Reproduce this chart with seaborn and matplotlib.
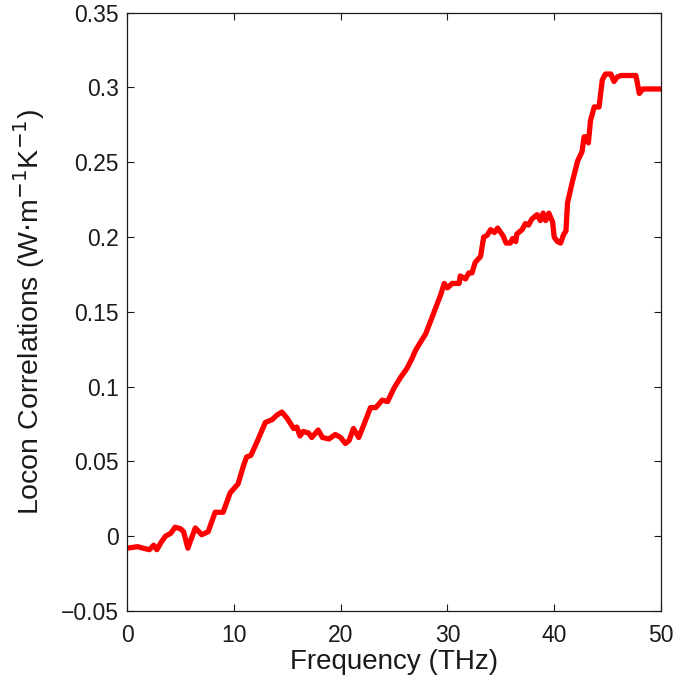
import matplotlib
matplotlib.use("Agg")
import matplotlib.pyplot as plt
import seaborn as sns
import pandas as pd

freq = [0.0, 0.5, 1.0, 1.5, 2.1, 2.5, 2.8, 3.2, 3.6, 4.1, 4.5, 5.0, 5.3, 5.7, 6.0, 6.4,
        7.0, 7.6, 8.25, 9.0, 9.66, 10.4, 10.9, 11.2, 11.6, 12.17, 12.95, 13.6, 14.04,
        14.5, 14.98, 15.6, 15.9, 16.2, 16.5, 17.0, 17.3, 17.9, 18.3, 18.9, 19.5, 20.0,
        20.45, 20.8, 21.2, 21.7, 22.2, 22.8, 23.3, 23.9, 24.4, 25.0, 25.6, 26.2, 26.7,
        27.0, 27.5, 27.95, 28.6, 29.4, 29.7, 30.0, 30.45, 31.1, 31.2, 31.7, 32.0, 32.3,
        32.6, 33.1, 33.4, 33.7, 34.05, 34.4, 34.7, 35.2, 35.5, 35.9, 36.1, 36.4, 36.5,
        37.0, 37.3, 37.6, 37.9, 38.4, 38.7, 38.96, 39.2, 39.5, 39.85, 40.0, 40.3, 40.6,
        40.9, 41.1, 41.25, 41.7, 42.2, 42.6, 42.8, 43.0, 43.2, 43.4, 43.75, 44.2, 44.5,
        44.8, 45.3, 45.6, 45.9, 46.25, 47.65, 47.97, 48.3, 50.0]
corr = [-0.008, -0.0075, -0.007, -0.008, -0.009, -0.006, -0.009, -0.004, 0.000, 0.002,
        0.006, 0.005, 0.003, -0.008, -0.002, 0.0055, 0.001, 0.003, 0.016, 0.016, 0.029,
        0.035, 0.047, 0.053, 0.054, 0.063, 0.076, 0.078, 0.081, 0.083, 0.079, 0.072,
        0.073, 0.067, 0.070, 0.069, 0.066, 0.071, 0.066, 0.065, 0.068, 0.066, 0.062,
        0.064, 0.072, 0.066, 0.075, 0.086, 0.086, 0.091, 0.090, 0.099, 0.106, 0.112,
        0.119, 0.124, 0.130, 0.135, 0.147, 0.162, 0.169, 0.166, 0.169, 0.169, 0.174,
        0.172, 0.176, 0.176, 0.183, 0.187, 0.200, 0.201, 0.205, 0.203, 0.206, 0.201,
        0.196, 0.196, 0.199, 0.197, 0.202, 0.205, 0.209, 0.208, 0.212, 0.215, 0.211,
        0.216, 0.211, 0.216, 0.210, 0.200, 0.197, 0.196, 0.202, 0.204, 0.223, 0.237,
        0.251, 0.257, 0.267, 0.267, 0.263, 0.278, 0.287, 0.287, 0.305, 0.309, 0.309,
        0.304, 0.307, 0.308, 0.308, 0.296, 0.299, 0.299]

xticks = [0, 10, 20, 30, 40, 50]
xticklabels = ["0", "10", "20", "30", "40", "50"]
yticks = [-0.05, 0, 0.05, 0.1, 0.15, 0.2, 0.25, 0.3, 0.35]
yticklabels = ["\u22120.05", "0", "0.05", "0.1", "0.15", "0.2", "0.25", "0.3", "0.35"]

sns.set_style("ticks")
plt.rcParams['font.family'] = ['Liberation Sans', 'DejaVu Sans']

df = pd.DataFrame({"Frequency": freq, "Corr": corr})

fig = plt.figure(figsize=(6.75, 6.82), dpi=100)
ax = fig.add_axes([127 / 675, 1 - 611 / 682, (661 - 127) / 675, (611 - 12.7) / 682])
sns.lineplot(data=df, x="Frequency", y="Corr", ax=ax, color="#ff0000", linewidth=3.8)

ax.set_xlim(0, 50)
ax.set_ylim(-0.05, 0.35)
ax.set_xticks(xticks)
ax.set_xticklabels(xticklabels)
ax.set_yticks(yticks)
ax.set_yticklabels(yticklabels)
ax.tick_params(direction="in", length=5, width=0.8, top=True, right=True,
               labelsize=16.5, colors="#1a1a1a", pad=6)
ax.tick_params(axis="x", pad=9)
for s in ax.spines.values():
    s.set_visible(True)
    s.set_linewidth(0.9)
    s.set_color("#1a1a1a")
ax.set_xlabel("Frequency (THz)", fontsize=20, color="#1a1a1a", labelpad=2)
ax.set_ylabel("Locon Correlations (W$\\cdot$m$^{-1}$K$^{-1}$)", fontsize=20.5,
              color="#1a1a1a", labelpad=10)

fig.savefig("out.png", dpi=100)
